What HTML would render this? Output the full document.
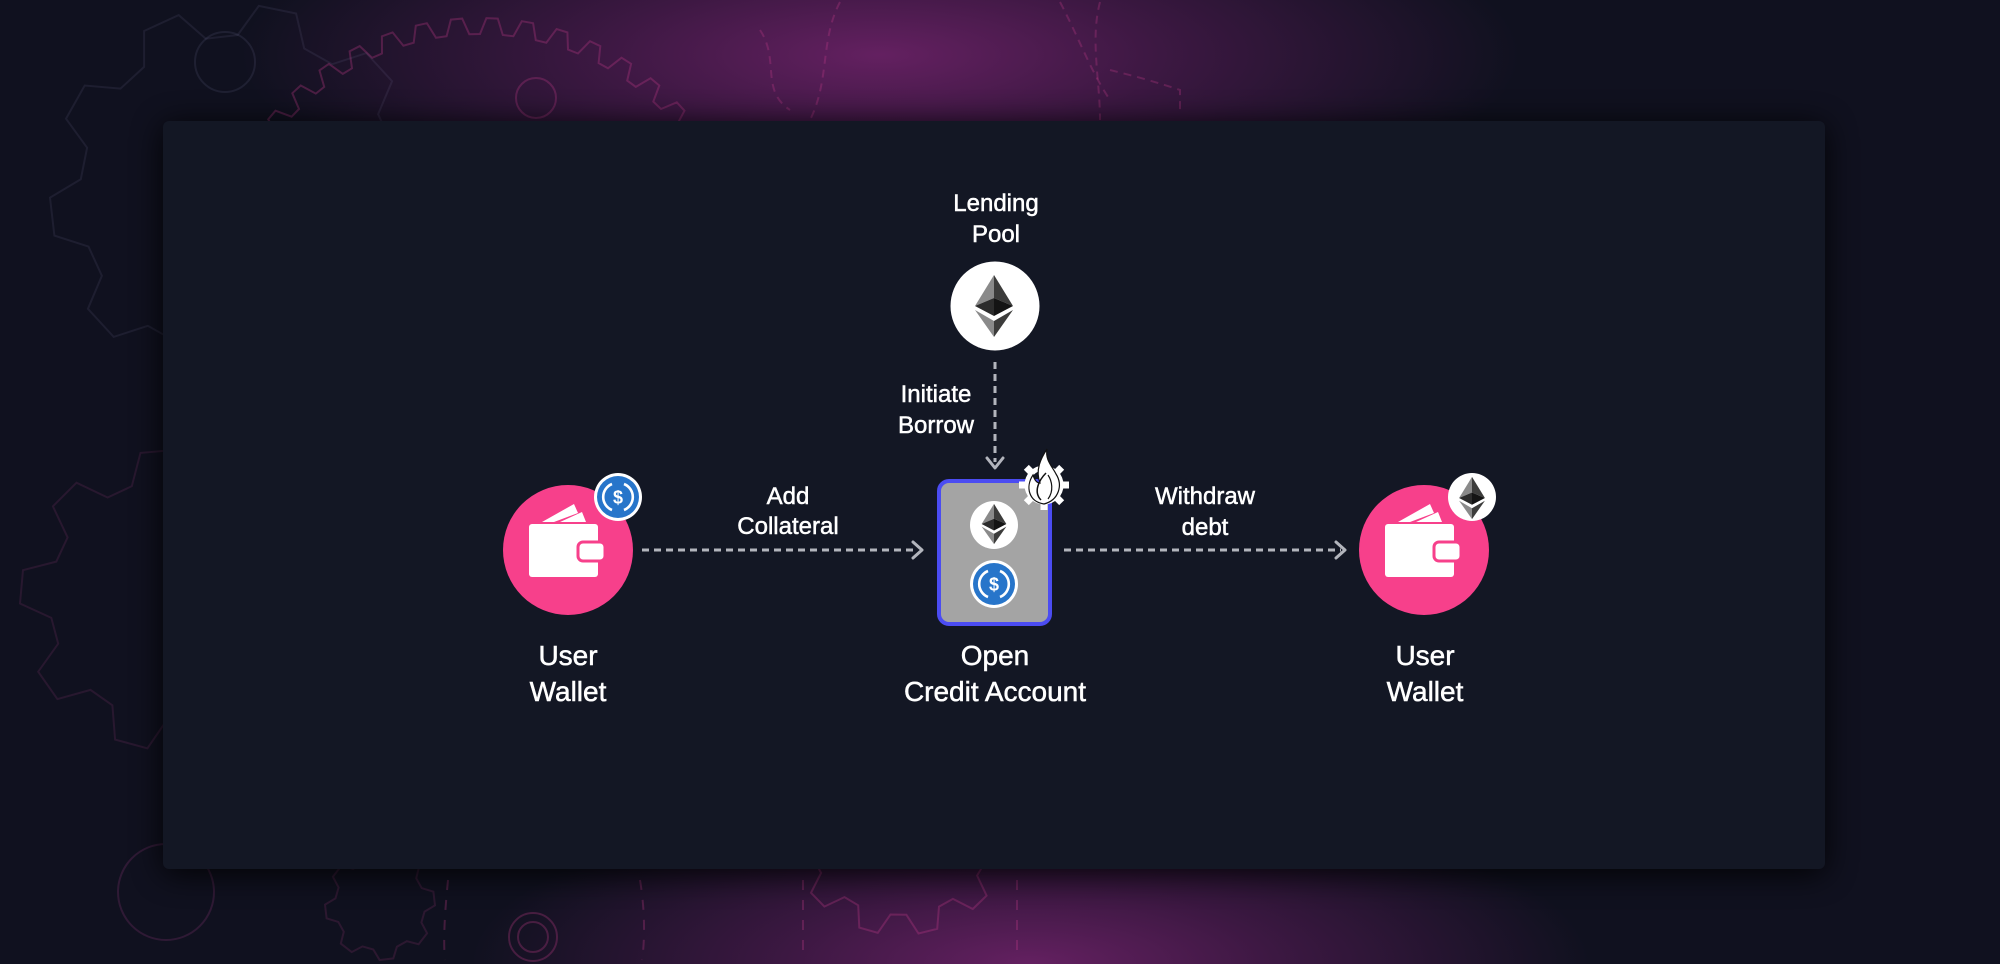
<!DOCTYPE html>
<html><head><meta charset="utf-8">
<style>
html,body{margin:0;padding:0;width:2000px;height:964px;overflow:hidden;background:#10111f;}
#wrap{position:absolute;left:0;top:0;width:2000px;height:964px;overflow:hidden;background:
 radial-gradient(ellipse 640px 180px at 880px 55px, rgba(104,33,100,0.95) 0%, rgba(88,28,88,0.6) 45%, rgba(60,20,70,0) 100%),
 radial-gradient(ellipse 560px 170px at 1030px 964px, rgba(104,33,100,0.95) 0%, rgba(88,28,88,0.6) 45%, rgba(60,20,70,0) 100%),
 #10111f;}
svg{position:absolute;left:0;top:0;overflow:hidden;display:block;}
text{font-family:"Liberation Sans",sans-serif;fill:#ffffff;text-anchor:middle;stroke:#ffffff;stroke-width:0.5px;}
</style></head>
<body>
<div id="wrap">
<svg width="2000" height="964" viewBox="0 0 2000 964" xmlns="http://www.w3.org/2000/svg">
<defs>
 <filter id="sh" x="-20%" y="-20%" width="140%" height="140%"><feGaussianBlur stdDeviation="16"/></filter>
 <clipPath id="clipAll"><rect x="0" y="0" width="2000" height="964"/></clipPath>
 <g id="eth">
  <polygon points="0,-31 -19,0 0,-8" fill="#8a8a8a"/>
  <polygon points="0,-31 19,0 0,-8" fill="#3c3c3b"/>
  <polygon points="-19,0 0,-8 0,10" fill="#2c2c2c"/>
  <polygon points="19,0 0,-8 0,10" fill="#141414"/>
  <polygon points="-19,4 0,31 0,15" fill="#8a8a8a"/>
  <polygon points="19,4 0,31 0,15" fill="#3c3c3b"/>
 </g>
 <g id="usdc">
  <circle r="24" fill="#ffffff"/>
  <circle r="21" fill="#2775ca"/>
  <path d="M-6,-13 A14,14 0 0 0 -6,13" fill="none" stroke="#fff" stroke-width="2.6"/>
  <path d="M6,-13 A14,14 0 0 1 6,13" fill="none" stroke="#fff" stroke-width="2.6"/>
  <text x="0" y="6.5" style="font-size:18px;font-weight:bold;stroke:none;">$</text>
 </g>
 <g id="wallet">
  <circle r="65" fill="#f7408b"/>
  <polygon points="-26,-28 6,-46 10,-37 -14,-28" fill="#ffffff"/>
  <polygon points="-8,-28 14,-38 18,-28" fill="#ffffff"/>
  <rect x="-39" y="-26" width="69" height="53" rx="3" fill="#ffffff"/>
  <rect x="10" y="-8" width="27" height="19" rx="5" fill="#ffffff" stroke="#f7408b" stroke-width="3"/>
 </g>
</defs>

<g clip-path="url(#clipAll)">
<g id="gears" fill="none" stroke-width="2"></g>
<g fill="none" stroke="rgba(200,60,140,0.28)" stroke-width="2">
 <circle cx="536" cy="98" r="20"/>
 <circle cx="533" cy="937" r="24"/>
 <circle cx="533" cy="937" r="15"/>
 <circle cx="166" cy="892" r="48" stroke="rgba(160,60,130,0.22)"/>
 <path d="M760,30 C780,60 760,90 790,110" stroke-dasharray="8 6"/>
 <path d="M840,2 C820,40 830,80 810,120" stroke-dasharray="8 6"/>
 <path d="M1060,2 C1080,40 1090,70 1110,100" stroke-dasharray="8 6"/>
 <path d="M1110,70 C1130,75 1150,80 1180,90 L1180,110" stroke-dasharray="8 6"/>
 <path d="M1100,2 C1090,40 1100,80 1100,120" stroke-dasharray="8 6"/>
 <path d="M1017,880 L1017,960" stroke-dasharray="10 10"/>
 <path d="M803,880 L803,960" stroke-dasharray="10 10"/>
 <path d="M640,880 C645,910 645,940 642,960" stroke-dasharray="10 10"/>
 <path d="M448,880 C445,910 443,940 445,960" stroke-dasharray="10 10"/>
</g>
<g fill="none" stroke="rgba(130,130,170,0.14)" stroke-width="2">
 <circle cx="225" cy="62" r="30"/>
</g>

<rect x="163" y="125" width="1662" height="749" rx="6" fill="#000" opacity="0.85" filter="url(#sh)"/>
<rect x="163" y="121" width="1662" height="748" rx="6" fill="#131724"/>
</g>

<g stroke="#b3b5bd" stroke-width="3" fill="none">
 <line x1="642" y1="550" x2="918" y2="550" stroke-dasharray="7 5"/>
 <polyline points="913,542 922,550 913,558" stroke-linejoin="round" stroke-linecap="round"/>
 <line x1="1064" y1="550" x2="1341" y2="550" stroke-dasharray="7 5"/>
 <polyline points="1336,542 1345,550 1336,558" stroke-linejoin="round" stroke-linecap="round"/>
 <line x1="995" y1="362" x2="995" y2="462" stroke-dasharray="7 5"/>
 <polyline points="987,458 995,468 1003,458" stroke-linejoin="round" stroke-linecap="round"/>
</g>

<text x="996" y="211" style="font-size:24px;">Lending</text>
<text x="996" y="242" style="font-size:24px;">Pool</text>
<circle cx="995" cy="306" r="44.5" fill="#ffffff"/>
<use href="#eth" transform="translate(994,306)"/>
<text x="936" y="402" style="font-size:24px;">Initiate</text>
<text x="936" y="433" style="font-size:24px;">Borrow</text>

<rect x="939" y="481" width="111" height="143" rx="10" fill="#a4a4a4" stroke="#4b4cf2" stroke-width="4"/>
<circle cx="994" cy="525" r="24" fill="#ffffff"/>
<use href="#eth" transform="translate(994,524) scale(0.65)"/>
<use href="#usdc" transform="translate(994,584)"/>
<g transform="translate(1044,485)">
 <g fill="#ffffff">
  <rect x="-3.5" y="-25" width="7" height="8" transform="rotate(0)"/>
  <rect x="-3.5" y="-25" width="7" height="8" transform="rotate(45)"/>
  <rect x="-3.5" y="-25" width="7" height="8" transform="rotate(90)"/>
  <rect x="-3.5" y="-25" width="7" height="8" transform="rotate(135)"/>
  <rect x="-3.5" y="-25" width="7" height="8" transform="rotate(180)"/>
  <rect x="-3.5" y="-25" width="7" height="8" transform="rotate(225)"/>
  <rect x="-3.5" y="-25" width="7" height="8" transform="rotate(270)"/>
  <rect x="-3.5" y="-25" width="7" height="8" transform="rotate(315)"/>
 </g>
 <circle r="17" fill="none" stroke="#ffffff" stroke-width="5"/>
 <path d="M0,19 C-15,17 -19,2 -11,-10 C-9,-4 -7,-2 -4,-2 C-9,-15 -3,-27 3,-36 C1,-25 8,-19 12,-11 C19,0 15,15 0,19 Z" fill="#ffffff" stroke="#111" stroke-width="1.2"/>
 <path d="M-3,15 C-11,7 -5,-5 2,-12" fill="none" stroke="#111" stroke-width="1.5"/>
 <path d="M4,14 C10,6 8,-4 4,-10" fill="none" stroke="#111" stroke-width="1.2"/>
</g>
<text x="995" y="665" style="font-size:28px;">Open</text>
<text x="995" y="701" style="font-size:28px;">Credit Account</text>

<use href="#wallet" transform="translate(568,550)"/>
<use href="#usdc" transform="translate(618,497)"/>
<text x="568" y="665" style="font-size:28px;">User</text>
<text x="568" y="701" style="font-size:28px;">Wallet</text>

<use href="#wallet" transform="translate(1424,550)"/>
<circle cx="1472" cy="497" r="24" fill="#ffffff"/>
<use href="#eth" transform="translate(1472,498) scale(0.68)"/>
<text x="1425" y="665" style="font-size:28px;">User</text>
<text x="1425" y="701" style="font-size:28px;">Wallet</text>

<text x="788" y="504" style="font-size:24px;">Add</text>
<text x="788" y="534" style="font-size:24px;">Collateral</text>
<text x="1205" y="504" style="font-size:24px;">Withdraw</text>
<text x="1205" y="535" style="font-size:24px;">debt</text>
</svg>
</div>
<script>
(function(){
 function gear(cx,cy,rIn,rOut,n,rot){
  var d='',step=2*Math.PI/n;
  for(var i=0;i<n;i++){
   var a=rot+i*step;
   var pts=[[a,rIn],[a+0.18*step,rOut],[a+0.5*step,rOut],[a+0.68*step,rIn]];
   for(var j=0;j<pts.length;j++){
    var x=cx+pts[j][1]*Math.cos(pts[j][0]),y=cy+pts[j][1]*Math.sin(pts[j][0]);
    d+=(i==0&&j==0?'M':'L')+x.toFixed(1)+','+y.toFixed(1);
   }
  }
  return d+'Z';
 }
 var g=document.getElementById('gears');
 var list=[
  [480,290,256,272,48,0,'rgba(200,60,140,0.3)'],
  [240,195,160,190,10,0.3,'rgba(130,130,170,0.12)'],
  [170,600,120,150,9,0.2,'rgba(170,60,130,0.16)'],
  [900,820,95,115,12,0.1,'rgba(200,60,140,0.3)'],
  [380,905,45,55,8,0.4,'rgba(170,60,130,0.18)']
 ];
 list.forEach(function(p){
  var el=document.createElementNS('http://www.w3.org/2000/svg','path');
  el.setAttribute('d',gear(p[0],p[1],p[2],p[3],p[4],p[5]));
  el.setAttribute('stroke',p[6]);
  g.appendChild(el);
 });
})();
</script>
</body></html>
